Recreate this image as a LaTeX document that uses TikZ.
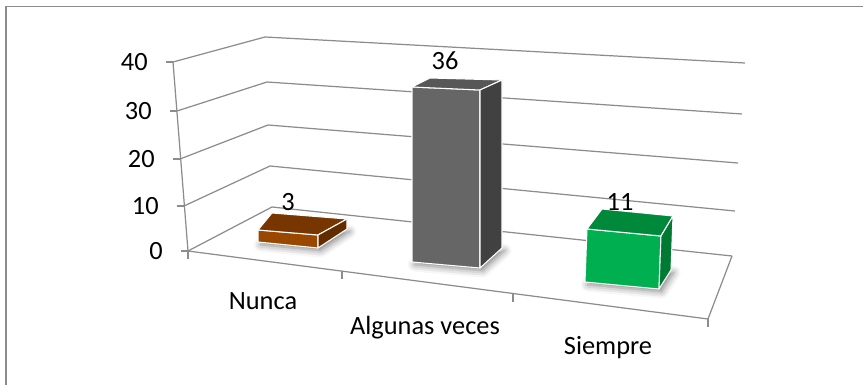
\documentclass[tikz,border=0pt]{standalone}
\usepackage{fontspec}
\setmainfont{Carlito}
\usetikzlibrary{shadows.blur}
\definecolor{axisgray}{HTML}{8C8C8C}
\definecolor{nuncafront}{HTML}{9A4700}
\definecolor{nuncatop}{HTML}{773500}
\definecolor{nuncaside}{HTML}{632C00}
\definecolor{algfront}{HTML}{666666}
\definecolor{algtop}{HTML}{575757}
\definecolor{algside}{HTML}{414141}
\definecolor{siefront}{HTML}{00B050}
\definecolor{sietop}{HTML}{00893B}
\definecolor{sieside}{HTML}{007A32}
\begin{document}
\begin{tikzpicture}[x=0.02cm,y=-0.02cm,
  gridline/.style={draw=axisgray, line width=0.7pt},
  edge/.style={draw=white, line width=0.6pt, line join=round},
  soft/.style={blur shadow={shadow xshift=1.5pt, shadow yshift=-1.5pt,
    shadow blur radius=4pt, shadow opacity=50}},
  lbl/.style={font=\fontsize{15}{18}\selectfont, inner sep=0pt}]
\useasboundingbox (0,0) rectangle (863,385);
\draw[axisgray, line width=1pt] (6,385) -- (6,6.5) -- (863,6.5);

% walls, grid and value axis
\foreach \v/\fx/\fy/\bx/\by/\rx/\ry in {0/188/251/272/207/732/256,
    10/184/206/270/166/735/211, 20/180/159/268/125/738/163,
    30/177/111/267/82/742/114, 40/173/62/265/37/745/63}
{
  \draw[gridline] (\fx,\fy) -- (\bx,\by) -- (\rx,\ry);
  \draw[gridline] (\fx-7,\fy) -- (\fx,\fy);
  \node[lbl, anchor=east] (y\v) at (\fx-25,\fy) {\v};
}

\coordinate (f0) at (188,251);
\coordinate (f40) at (173,62);
\coordinate (fr) at (708,319);
\coordinate (r0) at (732,256);
\draw[gridline] (f40) -- (f0) -- (fr) -- (r0);

\foreach \x/\y in {188/251, 342/271, 513/294, 708/319}
    \draw[gridline] (\x,\y) -- (\x,\y+8);

% Nunca
\coordinate (n1) at (258,230);
\coordinate (n2) at (318,235);
\coordinate (n3) at (318,248);
\coordinate (n4) at (258,242);
\coordinate (n5) at (272,213);
\coordinate (n6) at (347,219);
\coordinate (n7) at (347,229);
\path[soft] (n4) -- (n3) -- (n7) -- (272,225) -- cycle;
\filldraw[edge, fill=nuncafront] (n1) -- (n2) -- (n3) -- (n4) -- cycle;
\filldraw[edge, fill=nuncatop] (n1) -- (n5) -- (n6) -- (n2) -- cycle;
\filldraw[edge, fill=nuncaside] (n2) -- (n6) -- (n7) -- (n3) -- cycle;

% Algunas veces
\coordinate (a1) at (412,87);
\coordinate (a2) at (480,90);
\coordinate (a3) at (480,268);
\coordinate (a4) at (412,262);
\coordinate (a5) at (430,78);
\coordinate (a6) at (502,80);
\coordinate (a7) at (502,248);
\path[soft] (a4) -- (a3) -- (a7) -- (430,252) -- cycle;
\filldraw[edge, fill=algfront] (a1) -- (a2) -- (a3) -- (a4) -- cycle;
\filldraw[edge, fill=algtop] (a1) -- (a5) -- (a6) -- (a2) -- cycle;
\filldraw[edge, fill=algside] (a2) -- (a6) -- (a7) -- (a3) -- cycle;

% Siempre
\coordinate (s1) at (587,229);
\coordinate (s2) at (661,236);
\coordinate (s3) at (659,289);
\coordinate (s4) at (585,282);
\coordinate (s5) at (602,209);
\coordinate (s6) at (673,216);
\coordinate (s7) at (671,270);
\path[soft] (s4) -- (s3) -- (s7) -- (602,263) -- cycle;
\filldraw[edge, fill=siefront] (s1) -- (s2) -- (s3) -- (s4) -- cycle;
\filldraw[edge, fill=sietop] (s1) -- (s5) -- (s6) -- (s2) -- cycle;
\filldraw[edge, fill=sieside] (s2) -- (s6) -- (s7) -- (s3) -- cycle;

\node[lbl] (v3) at (288,202) {3};
\node[lbl] (v36) at (445,61) {36};
\node[lbl] (v11) at (620,202) {11};

\node[lbl] (c1) at (263,301) {Nunca};
\node[lbl] (c2) at (425,328) {Algunas veces};
\node[lbl] (c3) at (608,348) {Siempre};
\end{tikzpicture}
\end{document}
